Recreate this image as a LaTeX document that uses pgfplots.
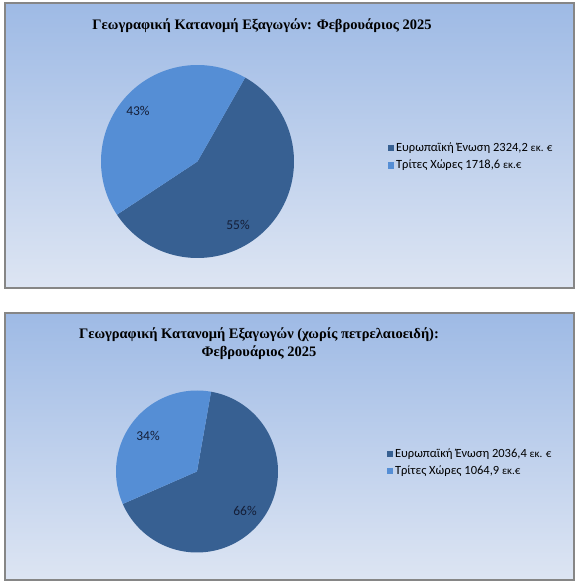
\documentclass[border=0pt]{standalone}
\usepackage{pgfplots}
\pgfplotsset{compat=1.18}
\usepackage{fontspec}
\setmainfont{Liberation Serif}
\newfontfamily\calfont{Carlito}
\definecolor{eu}{RGB}{55,96,146}
\definecolor{tc}{RGB}{85,142,213}
\definecolor{ptop}{RGB}{158,186,229}
\definecolor{pbot}{RGB}{221,229,243}
\definecolor{bord}{RGB}{134,134,134}
\definecolor{lbl}{RGB}{20,30,55}
\pgfplotsset{pie/.style={hide axis, scale only axis, xmin=-1,xmax=1,ymin=-1,ymax=1,
  anchor=center, clip=false, legend cell align=left,
  legend style={draw=none, fill=none, font=\calfont\fontsize{12.5}{14}\selectfont, anchor=west,
    row sep=3pt, inner sep=0pt, outer sep=0pt, nodes={inner sep=2pt}},
  legend image code/.code={\fill[##1] (0pt,-3.2pt) rectangle (6.5pt,3.2pt);}}}
\begin{document}
\begin{tikzpicture}[x=1pt,y=1pt]
% data
\def\EUa{2324.2}\def\TCa{1718.6}\def\starta{60.4}
\def\EUb{2036.4}\def\TCb{1064.9}\def\startb{80}
\pgfmathsetmacro\endTCa{\starta+\TCa/(\EUa+\TCa)*360}
\pgfmathsetmacro\endEUa{\starta+360}
\pgfmathsetmacro\endTCb{\startb+\TCb/(\EUb+\TCb)*360}
\pgfmathsetmacro\endEUb{\startb+360}
\fill[white] (0,0) rectangle (577,584);
\shadedraw[top color=ptop, bottom color=pbot, draw=bord, line width=1.2pt] (5,296) rectangle (574,581);
\shadedraw[top color=ptop, bottom color=pbot, draw=bord, line width=1.2pt] (5,4) rectangle (574,271);
\node[font=\bfseries\fontsize{14.5}{18}\selectfont] at (262,558) {Γεωγραφική Κατανομή Εξαγωγών: Φεβρουάριος 2025};
\node[font=\bfseries\fontsize{14.5}{18}\selectfont, align=center] at (259,240) {Γεωγραφική Κατανομή Εξαγωγών (χωρίς πετρελαιοειδή):\\Φεβρουάριος 2025};
\begin{axis}[pie, width=193pt, height=193pt, at={(197.5pt,422.5pt)}, legend style={at={(1.485,0.525)}}]
\addplot[fill=eu, draw=none, domain=\endTCa:\endEUa, samples=150, variable=\t] ({cos(\t)},{sin(\t)}) -- (axis cs:0,0) -- cycle;
\addlegendentry{Ευρωπαϊκή Ένωση 2324,2 {\fontsize{11}{13}\selectfont εκ. €}}
\addplot[fill=tc, draw=none, domain=\starta:\endTCa, samples=100, variable=\t] ({cos(\t)},{sin(\t)}) -- (axis cs:0,0) -- cycle;
\addlegendentry{Τρίτες Χώρες 1718,6 {\fontsize{11}{13}\selectfont εκ.€}}
\node[font=\calfont\fontsize{13.5}{15}\selectfont, text=lbl] at (axis cs:-0.617,0.523) {43\%};
\node[font=\calfont\fontsize{13.5}{15}\selectfont, text=lbl] at (axis cs:0.42,-0.658) {55\%};
\end{axis}
\begin{axis}[pie, width=162pt, height=162pt, at={(197pt,112.5pt)}, legend style={at={(1.67,0.555)}}]
\addplot[fill=eu, draw=none, domain=\endTCb:\endEUb, samples=150, variable=\t] ({cos(\t)},{sin(\t)}) -- (axis cs:0,0) -- cycle;
\addlegendentry{Ευρωπαϊκή Ένωση 2036,4 {\fontsize{11}{13}\selectfont εκ. €}}
\addplot[fill=tc, draw=none, domain=\startb:\endTCb, samples=100, variable=\t] ({cos(\t)},{sin(\t)}) -- (axis cs:0,0) -- cycle;
\addlegendentry{Τρίτες Χώρες 1064,9 {\fontsize{11}{13}\selectfont εκ.€}}
\node[font=\calfont\fontsize{13.5}{15}\selectfont, text=lbl] at (axis cs:-0.605,0.438) {34\%};
\node[font=\calfont\fontsize{13.5}{15}\selectfont, text=lbl] at (axis cs:0.593,-0.488) {66\%};
\end{axis}
\end{tikzpicture}
\end{document}
